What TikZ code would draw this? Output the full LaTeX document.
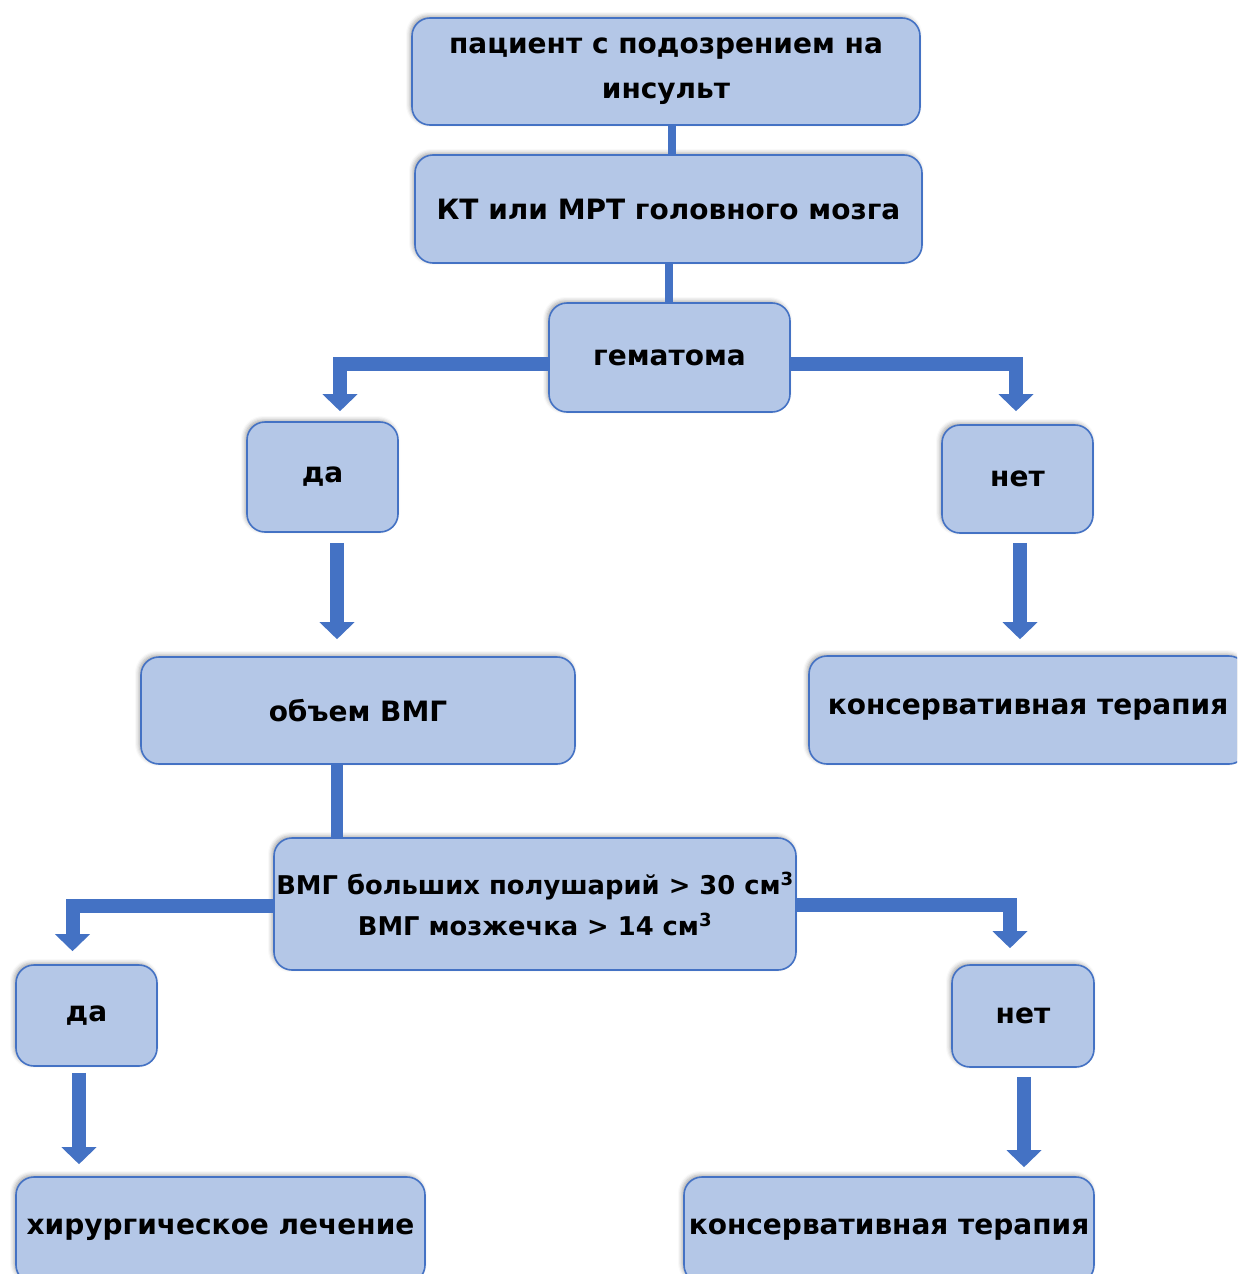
\documentclass[tikz,border=0pt]{standalone}
\usepackage{fontspec}
\setmainfont{DejaVu Sans}
\usepackage{tikz}
\usetikzlibrary{arrows.meta,shadows.blur}

\definecolor{boxfill}{HTML}{B4C7E7}
\definecolor{boxline}{HTML}{4472C4}

\begin{document}
\begin{tikzpicture}[x=1pt, y=-1pt,
    box/.style  = {draw=boxline, fill=boxfill, line width=1.6pt, rounded corners=18pt,
                   align=center, inner sep=0pt,
                   font=\fontsize{28}{45}\selectfont\bfseries,
                   blur shadow={shadow xshift=-2pt, shadow yshift=2pt, shadow blur radius=4pt, shadow opacity=35}},
    link/.style = {draw=boxline, line width=8pt},
    arr/.style  = {draw=boxline, line width=14pt, -{Triangle[width=34pt, length=17pt]}}]
        \useasboundingbox (0,0) rectangle (1237,1274);
        \clip (0,0) rectangle (1237,1274);

        \node[box, minimum width=508pt, minimum height=107pt] (patient) at (666,71.5)   {пациент с подозрением на\\инсульт};
        \node[box, minimum width=507pt, minimum height=108pt] (scan)    at (668.5,209)  {КТ или МРТ головного мозга};
        \node[box, minimum width=241pt, minimum height=109pt] (hema)    at (669.5,357.5){гематома};
        \node[box, minimum width=151pt, minimum height=110pt] (yes_1)   at (322.5,477)  {да};
        \node[box, minimum width=151pt, minimum height=108pt] (no_1)    at (1017.5,479) {нет};
        \node[box, minimum width=434pt, minimum height=107pt] (volume)  at (358,710.5)  {объем ВМГ};
        \node[box, minimum width=438pt, minimum height=108pt] (cons_1)  at (1028,710)   {консервативная терапия};
        \node[box, minimum width=522pt, minimum height=132pt,
              font=\fontsize{25.8}{41}\selectfont\bfseries] (crit) at (535,904) {ВМГ больших полушарий > 30 см\textsuperscript{3}\\ВМГ мозжечка > 14 см\textsuperscript{3}};
        \node[box, minimum width=141pt, minimum height=101pt] (yes_2)   at (86.5,1015.5){да};
        \node[box, minimum width=142pt, minimum height=102pt] (no_2)    at (1023,1016)  {нет};
        \node[box, minimum width=409pt, minimum height=106pt] (surgery) at (220.5,1230) {хирургическое лечение};
        \node[box, minimum width=410pt, minimum height=106pt] (cons_2)  at (889,1230)   {консервативная терапия};

        \draw   [link]                      ([xshift=6pt]patient.south)  --  ([xshift=6pt]patient.south |- scan.north);
        \draw   [link]                      (scan.south)                 --  (scan.south |- hema.north);
        \draw   [link, line width=12pt]     ([xshift=-21pt]volume.south) --  ([xshift=-21pt]volume.south |- crit.north);
        \draw   [arr, shorten >=10pt]       ([yshift=-6pt]hema.west)     -|  ([xshift=17.5pt]yes_1.north);
        \draw   [arr, shorten >=13pt]       ([yshift=-6pt]hema.east)     -|  ([xshift=-1.5pt]no_1.north);
        \draw   [arr, shorten <=10pt, shorten >=17pt] ([xshift=14.5pt]yes_1.south) -- ([xshift=14.5pt]yes_1.south |- volume.north);
        \draw   [arr, shorten <=9pt, shorten >=16pt]  ([xshift=2.5pt]no_1.south)   -- ([xshift=2.5pt]no_1.south |- cons_1.north);
        \draw   [arr, shorten >=13pt]       ([yshift=-2pt]crit.west)     -|  ([xshift=-14pt]yes_2.north);
        \draw   [arr, shorten >=16pt]       ([yshift=-1pt]crit.east)     -|  ([xshift=-13pt]no_2.north);
        \draw   [arr, shorten <=6pt, shorten >=12pt]  ([xshift=-7.5pt]yes_2.south) -- ([xshift=-7.5pt]yes_2.south |- surgery.north);
        \draw   [arr, shorten <=9pt, shorten >=9pt]   ([xshift=1pt]no_2.south)     -- ([xshift=1pt]no_2.south |- cons_2.north);
    \end{tikzpicture}
\end{document}
